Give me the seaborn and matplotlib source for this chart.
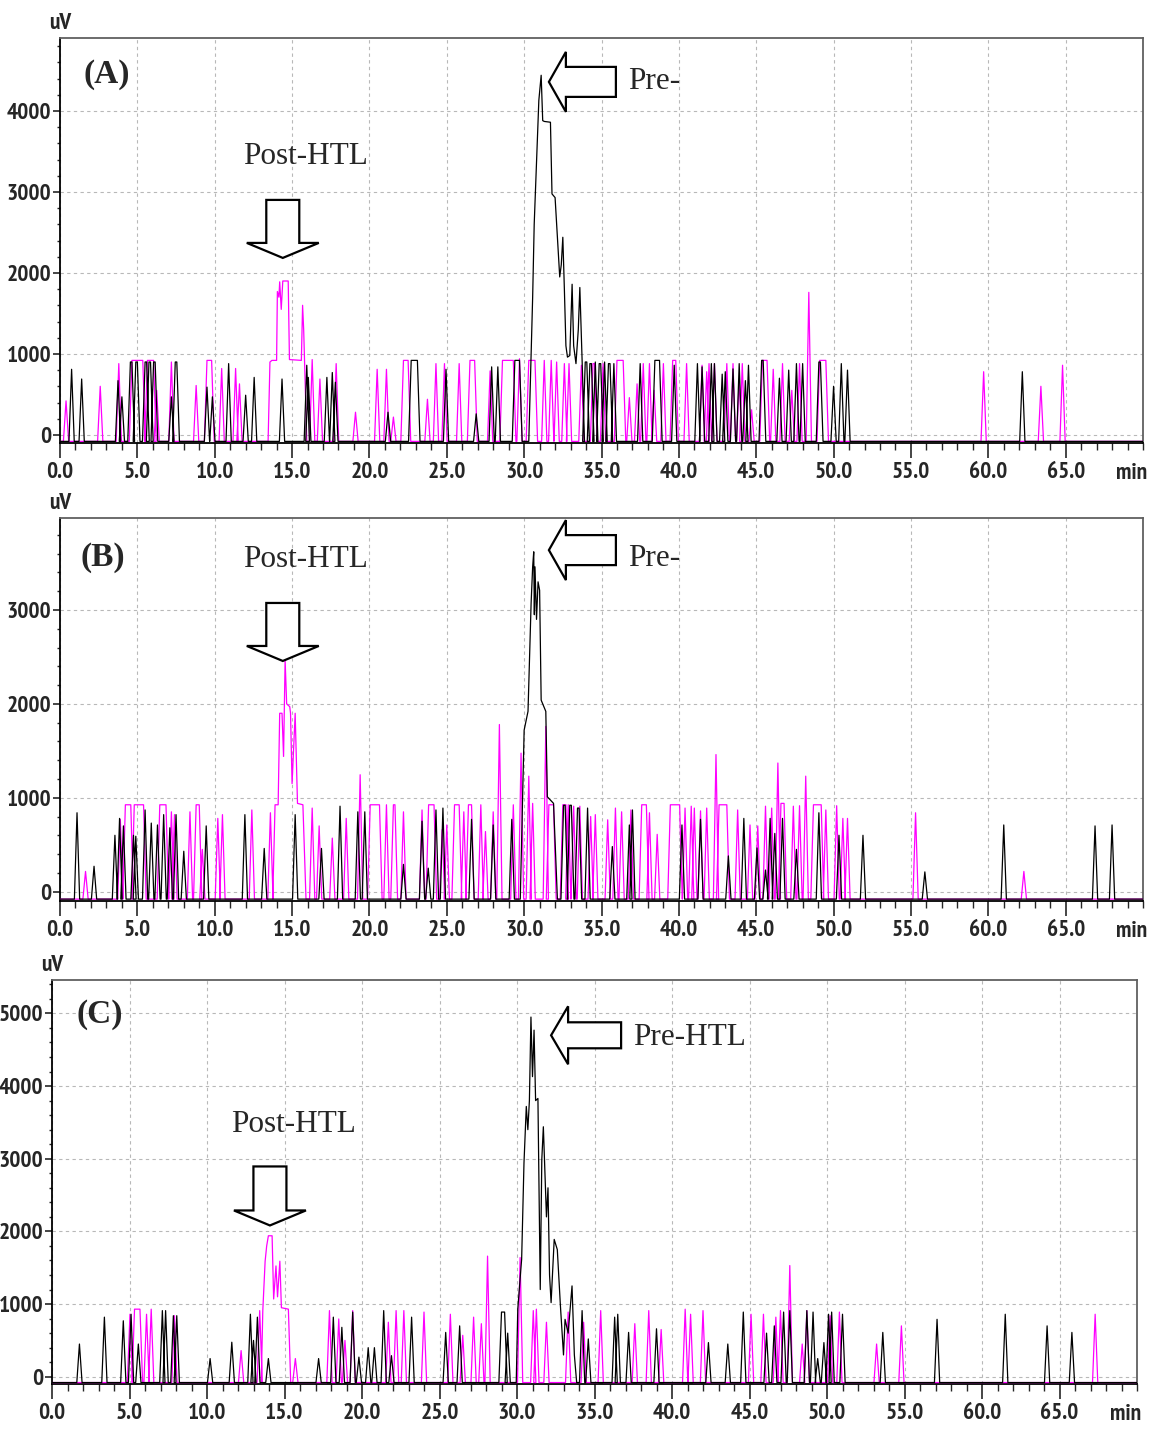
import numpy as np
import matplotlib
matplotlib.use("Agg")
import matplotlib.pyplot as plt
import matplotlib.transforms as mtransforms
from matplotlib.patches import Polygon
from matplotlib.ticker import MultipleLocator, FixedLocator
import seaborn as sns

# ---------------- DATA ----------------
# peaks: (retention time [min], height [uV], flat-top width [min])
BASELINE = -80

a_pre_peaks = [(0.75, 810, 0), (1.4, 690, 0), (3.75, 670, 0), (4.0, 470, 0), (4.6, 900, 0.1),
               (4.95, 900, 0.1), (5.55, 900, 0.1), (5.8, 900, 0.1), (6.1, 900, 0.1), (7.2, 470, 0),
               (7.5, 900, 0.1), (9.5, 590, 0), (9.85, 470, 0), (10.9, 880, 0), (12.0, 490, 0),
               (12.55, 710, 0), (14.35, 690, 0), (15.95, 860, 0), (16.05, 710, 0), (17.25, 710, 0),
               (17.6, 770, 0), (17.8, 650, 0), (21.2, 280, 0), (22.9, 920, 0.4), (24.95, 810, 0),
               (26.9, 260, 0), (27.9, 840, 0), (28.3, 840, 0), (29.55, 920, 0.3), (34.0, 900, 0.1),
               (34.3, 880, 0.1), (34.6, 900, 0), (34.9, 880, 0.1), (35.2, 900, 0), (35.5, 880, 0.1),
               (35.8, 880, 0), (37.5, 880, 0), (38.6, 920, 0.3), (39.7, 860, 0), (41.2, 880, 0),
               (41.5, 840, 0), (42.1, 880, 0), (42.3, 880, 0), (42.8, 750, 0), (43.0, 780, 0),
               (43.5, 815, 0), (43.9, 880, 0), (44.3, 670, 0), (44.5, 860, 0), (45.4, 920, 0.1),
               (46.5, 700, 0), (47.1, 800, 0), (47.6, 880, 0), (48.0, 880, 0), (49.1, 900, 0.1),
               (50.0, 600, 0), (50.5, 880, 0), (50.9, 800, 0), (62.2, 780, 0)]
a_pre_main_t = [30.3, 30.45, 30.55, 30.65, 30.75, 30.85, 30.95, 31.1, 31.2, 31.3, 31.7, 31.8, 32.0,
                32.3, 32.4, 32.5, 32.6, 32.7, 32.8, 32.95, 33.1, 33.2, 33.35, 33.5, 33.6, 33.75, 33.9]
a_pre_main_v = [-80, 1000, 1700, 2600, 3100, 3630, 4130, 4440, 3880, 3870, 3860, 2975, 2930,
                1950, 2100, 2440, 1800, 1100, 960, 980, 1860, 1100, 880, 1300, 1820, 900, -80]

a_post_peaks = [(0.39, 420, 0), (2.6, 600, 0), (3.8, 880, 0), (5.0, 920, 0.7), (5.85, 920, 0.4),
                (6.25, 550, 0), (7.2, 900, 0), (8.8, 610, 0), (9.65, 920, 0.3), (10.45, 820, 0),
                (11.35, 820, 0), (11.6, 630, 0), (16.3, 930, 0), (16.8, 690, 0), (17.85, 880, 0),
                (19.1, 280, 0), (20.5, 810, 0), (21.1, 810, 0), (21.55, 220, 0), (22.35, 920, 0.3),
                (23.75, 440, 0), (24.3, 880, 0), (24.85, 880, 0), (25.8, 880, 0), (26.65, 920, 0.3),
                (27.8, 790, 0), (28.95, 920, 0.7), (29.7, 940, 0), (30.5, 920, 0.4), (31.3, 920, 0),
                (31.75, 920, 0), (32.1, 900, 0), (32.6, 880, 0), (32.9, 880, 0), (33.7, 860, 0),
                (34.5, 880, 0.1), (35.1, 880, 0), (36.2, 920, 0.4), (36.8, 460, 0), (37.3, 630, 0),
                (37.7, 880, 0), (38.1, 880, 0), (38.4, 550, 0), (39.0, 880, 0), (39.7, 920, 0.2),
                (40.5, 880, 0), (41.5, 860, 0), (41.8, 780, 0), (41.95, 880, 0), (42.3, 880, 0),
                (43.1, 880, 0), (43.5, 880, 0), (43.9, 690, 0), (44.1, 880, 0), (44.7, 310, 0),
                (45.55, 920, 0.3), (46.1, 810, 0), (46.7, 880, 0), (47.3, 550, 0), (47.8, 880, 0),
                (48.4, 1760, 0), (49.3, 920, 0.4), (59.7, 780, 0), (63.4, 600, 0), (64.8, 860, 0)]
a_post_main_t = [13.45, 13.57, 13.7, 14.0, 14.05, 14.15, 14.2, 14.3, 14.4, 14.75, 14.83, 15.6,
                 15.68, 15.75, 15.85, 15.95]
a_post_main_v = [-80, 900, 920, 920, 1770, 1700, 1890, 1550, 1900, 1900, 930, 920,
                 1600, 1300, 600, -80]

b_pre_peaks = [(1.1, 840, 0), (2.2, 270, 0), (3.55, 600, 0), (3.85, 780, 0), (4.1, 700, 0),
               (4.75, 600, 0), (4.9, 590, 0), (5.5, 870, 0), (5.9, 730, 0), (6.3, 710, 0),
               (6.7, 820, 0), (7.1, 680, 0), (7.5, 820, 0), (8.0, 430, 0), (9.45, 700, 0),
               (11.95, 820, 0), (13.2, 460, 0), (15.2, 820, 0), (16.9, 460, 0), (18.1, 910, 0),
               (19.25, 850, 0), (19.7, 850, 0), (22.2, 290, 0), (23.4, 750, 0), (23.8, 250, 0),
               (24.3, 870, 0), (24.75, 890, 0), (26.6, 770, 0), (28.0, 710, 0), (29.2, 770, 0),
               (32.6, 920, 0.1), (33.0, 920, 0.1), (33.5, 890, 0.1), (34.1, 890, 0), (35.7, 480, 0),
               (36.8, 710, 0), (37.0, 870, 0), (40.2, 710, 0), (41.4, 770, 0), (43.2, 380, 0),
               (44.2, 780, 0), (45.05, 465, 0), (45.6, 230, 0), (45.9, 780, 0), (46.2, 620, 0),
               (46.7, 780, 0), (47.6, 450, 0), (49.05, 840, 0), (50.35, 600, 0), (51.9, 600, 0),
               (55.9, 210, 0), (61.0, 710, 0), (66.9, 700, 0), (68.0, 710, 0)]
b_pre_main_t = [29.75, 29.9, 30.0, 30.25, 30.45, 30.55, 30.62, 30.66, 30.7, 30.8, 30.9, 31.0,
                31.1, 31.4, 31.5, 31.9, 32.15]
b_pre_main_v = [-80, 1000, 1720, 1920, 3070, 3460, 3620, 2950, 3460, 2900, 3300, 3210,
                2040, 1920, 1010, 940, -80]

b_post_peaks = [(1.65, 215, 0), (3.9, 770, 0), (4.4, 925, 0.35), (5.1, 925, 0.6), (6.65, 925, 0.4),
                (7.2, 850, 0), (7.4, 820, 0), (8.4, 850, 0), (8.9, 925, 0.2), (9.2, 450, 0),
                (10.2, 780, 0), (10.5, 820, 0), (12.4, 870, 0), (13.6, 840, 0), (16.3, 890, 0),
                (16.75, 700, 0), (17.6, 570, 0), (18.5, 780, 0), (19.4, 1245, 0), (20.35, 925, 0.6),
                (21.1, 925, 0), (21.6, 925, 0.1), (22.2, 850, 0), (23.4, 870, 0), (24.0, 925, 0.35),
                (24.7, 660, 0), (25.0, 710, 0), (25.65, 925, 0.3), (26.1, 850, 0), (26.5, 925, 0.2),
                (27.2, 925, 0), (27.5, 640, 0), (28.0, 850, 0), (28.4, 1780, 0), (29.3, 925, 0),
                (29.8, 1475, 0), (30.3, 1230, 0), (30.55, 940, 0), (31.4, 1760, 0), (31.75, 925, 0.3),
                (32.6, 925, 0.2), (32.85, 925, 0), (33.2, 910, 0), (33.6, 910, 0), (34.3, 800, 0),
                (34.6, 820, 0), (35.4, 765, 0), (35.9, 890, 0), (36.3, 850, 0), (36.9, 870, 0),
                (37.75, 925, 0.3), (38.1, 840, 0), (38.6, 610, 0), (39.75, 925, 0.6), (40.4, 890, 0),
                (40.8, 910, 0), (41.0, 890, 0), (41.4, 860, 0), (41.8, 890, 0), (42.4, 1460, 0),
                (42.85, 925, 0.5), (43.8, 870, 0), (44.6, 710, 0), (45.1, 700, 0), (45.6, 910, 0),
                (46.0, 890, 0), (46.4, 1370, 0), (46.7, 940, 0.2), (47.4, 910, 0), (47.8, 915, 0),
                (48.2, 1230, 0), (48.95, 925, 0.5), (49.5, 870, 0), (50.2, 915, 0), (50.6, 780, 0),
                (50.9, 780, 0), (55.3, 840, 0), (62.3, 215, 0)]
b_post_main_t = [13.75, 13.9, 14.1, 14.2, 14.35, 14.45, 14.55, 14.65, 14.85, 14.9, 15.0, 15.2,
                 15.35, 15.7, 15.9]
b_post_main_v = [-80, 925, 925, 1900, 1900, 1440, 2470, 2000, 1970, 1900, 1150, 1900,
                 940, 925, -80]

c_pre_peaks = [(1.77, 450, 0), (3.38, 820, 0), (4.6, 770, 0), (5.1, 860, 0), (5.57, 450, 0),
               (7.12, 910, 0), (7.33, 910, 0), (7.83, 840, 0), (8.05, 840, 0), (10.2, 250, 0),
               (11.6, 475, 0), (12.8, 860, 0), (13.0, 500, 0), (13.25, 820, 0), (13.96, 250, 0),
               (17.2, 250, 0), (18.15, 820, 0), (18.7, 680, 0), (19.4, 890, 0), (19.8, 270, 0),
               (20.4, 400, 0), (20.8, 400, 0), (21.4, 910, 0), (21.9, 290, 0), (23.2, 820, 0),
               (25.4, 610, 0), (26.3, 700, 0), (29.1, 890, 0.2), (29.4, 600, 0), (34.2, 910, 0),
               (34.6, 520, 0), (36.3, 820, 0), (36.5, 860, 0), (37.2, 610, 0), (39.0, 660, 0),
               (42.35, 470, 0), (43.6, 450, 0), (44.6, 890, 0), (46.1, 600, 0), (46.6, 700, 0),
               (47.2, 890, 0), (47.6, 910, 0), (48.7, 910, 0), (49.1, 890, 0), (49.4, 250, 0),
               (49.8, 470, 0), (50.1, 860, 0), (50.3, 890, 0), (51.0, 860, 0), (53.6, 610, 0),
               (57.1, 790, 0), (61.5, 860, 0), (64.2, 700, 0), (65.8, 610, 0)]
c_pre_main_t = [29.95, 30.05, 30.3, 30.45, 30.6, 30.7, 30.8, 30.9, 31.0, 31.1, 31.2, 31.35, 31.5,
                31.6, 31.7, 31.9, 32.0, 32.1, 32.2, 32.4, 32.6, 32.8, 33.0, 33.1, 33.3, 33.55,
                33.7, 33.85]
c_pre_main_v = [-80, 930, 1620, 2940, 3720, 3400, 3800, 4950, 4130, 4770, 3800, 3830, 1200,
                2990, 3440, 2200, 2600, 1400, 1020, 1890, 1750, 980, 300, 790, 600, 1250,
                300, -80]

c_post_peaks = [(5.03, 860, 0), (5.5, 930, 0.35), (6.1, 860, 0), (6.4, 930, 0), (7.9, 840, 0),
                (12.2, 360, 0), (13.4, 910, 0), (15.7, 250, 0), (17.9, 910, 0), (18.5, 795, 0),
                (18.9, 500, 0), (19.4, 910, 0), (21.7, 750, 0), (22.2, 910, 0), (22.7, 910, 0),
                (24.0, 890, 0), (25.7, 860, 0), (26.5, 570, 0), (27.2, 820, 0), (27.7, 730, 0),
                (28.1, 1660, 0), (30.2, 1640, 0), (31.05, 910, 0), (31.25, 930, 0), (31.9, 750, 0),
                (33.3, 890, 0), (34.3, 750, 0), (35.4, 910, 0), (37.6, 730, 0), (38.5, 910, 0),
                (39.3, 650, 0), (40.85, 930, 0), (41.2, 860, 0), (42.0, 910, 0), (45.1, 860, 0),
                (45.9, 860, 0), (46.7, 820, 0), (47.0, 910, 0), (47.6, 1530, 0), (48.4, 450, 0),
                (48.7, 910, 0), (50.2, 840, 0), (50.8, 890, 0), (53.2, 450, 0), (54.8, 700, 0),
                (67.3, 860, 0)]
c_post_main_t = [13.5, 13.6, 13.75, 13.85, 13.96, 14.2, 14.3, 14.45, 14.55, 14.7, 14.8, 15.25, 15.4]
c_post_main_v = [-80, 910, 1590, 1800, 1940, 1940, 1070, 1525, 1100, 1590, 950, 930, -80]

x_tick_values = [0, 5, 10, 15, 20, 25, 30, 35, 40, 45, 50, 55, 60, 65]
x_tick_labels = ["0.0", "5.0", "10.0", "15.0", "20.0", "25.0", "30.0", "35.0", "40.0",
                 "45.0", "50.0", "55.0", "60.0", "65.0"]
a_y_ticks = [0, 1000, 2000, 3000, 4000]
b_y_ticks = [0, 1000, 2000, 3000]
c_y_ticks = [0, 1000, 2000, 3000, 4000, 5000]
panel_labels = ["(A)", "(B)", "(C)"]

# ---------------- STYLE ----------------
sns.set_style("white")
TICKFONT = ['PT Sans Narrow', 'DejaVu Sans']
SERIF = ['Liberation Serif', 'DejaVu Serif']
plt.rcParams['font.family'] = TICKFONT
PRE_COLOR = "black"
POST_COLOR = "#ff00ff"
TICK_SIZE = 16.8


def build_trace(peaks, main_t, main_v, rise=0.17, t_end=70.0):
    segs = []
    for t, h, w in peaks:
        segs.append(([t - w / 2 - rise, t - w / 2, t + w / 2, t + w / 2 + rise],
                     [BASELINE, h, h, BASELINE]))
    segs.append((list(main_t), list(main_v)))
    segs.sort(key=lambda s: s[0][0])
    xs, ys = [0.0], [BASELINE]
    for sx, sy in segs:
        xs += sx
        ys += sy
    xs.append(t_end)
    ys.append(BASELINE)
    return np.array(xs), np.array(ys)


fig = plt.figure(figsize=(11.5, 14.31), dpi=100)
fig.patch.set_facecolor("white")

panels = [
    dict(rect=[60 / 1150, 1 - 443 / 1431, 1083 / 1150, 405 / 1431], ylim=(-100, 4900),
         yticks=a_y_ticks, pre=(a_pre_peaks, a_pre_main_t, a_pre_main_v),
         post=(a_post_peaks, a_post_main_t, a_post_main_v), label=panel_labels[0],
         label_xy=(3.04, 4444), post_xy=(15.9, 3432), down_tip=(14.4, 2185),
         left_tip=(31.6, 4358), pre_text="Pre-", pre_xy=(36.7, 4358),
         down_shape=(16.5, 36, 15, 58), left_shape=(15, 30, 17, 67)),
    dict(rect=[60 / 1150, 1 - 901 / 1431, 1083 / 1150, 383 / 1431], ylim=(-100, 3980),
         yticks=b_y_ticks, pre=(b_pre_peaks, b_pre_main_t, b_pre_main_v),
         post=(b_post_peaks, b_post_main_t, b_post_main_v), label=panel_labels[1],
         label_xy=(2.78, 3564), post_xy=(15.9, 3543), down_tip=(14.4, 2457),
         left_tip=(31.6, 3638), pre_text="Pre-", pre_xy=(36.7, 3553),
         down_shape=(16.5, 36, 15, 58), left_shape=(15, 30, 17, 67)),
    dict(rect=[52 / 1150, 1 - 1384 / 1431, 1085 / 1150, 404 / 1431], ylim=(-100, 5460),
         yticks=c_y_ticks, pre=(c_pre_peaks, c_pre_main_t, c_pre_main_v),
         post=(c_post_peaks, c_post_main_t, c_post_main_v), label=panel_labels[2],
         label_xy=(3.1, 4986), post_xy=(15.6, 3466), down_tip=(14.06, 2082),
         left_tip=(32.2, 4699), pre_text="Pre-HTL", pre_xy=(37.5, 4671),
         down_shape=(16.5, 36, 15, 59), left_shape=(13, 29, 17, 70)),
]

for p in panels:
    ax = fig.add_axes(p["rect"])
    ax.set_facecolor("white")

    xs, ys = build_trace(*p["post"])
    sns.lineplot(x=xs, y=ys, ax=ax, color=POST_COLOR, lw=0.9, estimator=None, sort=False,
                 zorder=3)
    xs, ys = build_trace(*p["pre"])
    sns.lineplot(x=xs, y=ys, ax=ax, color=PRE_COLOR, lw=0.9, estimator=None, sort=False,
                 zorder=4)

    ax.set_xlim(0, 70)
    ax.set_ylim(*p["ylim"])
    ax.set_xlabel("")
    ax.set_ylabel("")

    ax.xaxis.set_major_locator(FixedLocator(x_tick_values))
    ax.set_xticklabels(x_tick_labels)
    ax.xaxis.set_minor_locator(MultipleLocator(1))
    ax.yaxis.set_major_locator(FixedLocator(p["yticks"]))
    ax.set_yticklabels([str(v) for v in p["yticks"]])
    ax.yaxis.set_minor_locator(MultipleLocator(200))

    ax.tick_params(axis="x", which="major", direction="out", length=11, width=1.2,
                   pad=3, labelsize=TICK_SIZE, bottom=True)
    ax.tick_params(axis="x", which="minor", direction="out", length=5, width=1.0, bottom=True)
    ax.tick_params(axis="y", which="major", direction="out", length=5, width=1.2,
                   pad=1.5, labelsize=TICK_SIZE, left=True)
    ax.tick_params(axis="y", which="minor", direction="out", length=2.5, width=1.0, left=True)
    for lab in ax.get_xticklabels() + ax.get_yticklabels():
        lab.set_fontweight("bold")
        lab.set_family(TICKFONT)

    ax.grid(True, which="major", color="#b8b8b8", linestyle=(0, (3, 3)), linewidth=0.8)
    ax.set_axisbelow(True)

    for side in ["left", "bottom"]:
        ax.spines[side].set_color("black")
        ax.spines[side].set_linewidth(1.3)
    for side in ["top", "right"]:
        ax.spines[side].set_color("#606060")
        ax.spines[side].set_linewidth(1.3)
        ax.spines[side].set_visible(True)

    ax.annotate("uV", xy=(0, 1), xycoords="axes fraction", xytext=(0, 3),
                textcoords="offset points", ha="center", va="bottom", fontsize=TICK_SIZE,
                fontweight="bold", family=TICKFONT)
    ax.annotate("min", xy=(1, 0), xycoords="axes fraction", xytext=(3, -14.3),
                textcoords="offset points", ha="right", va="top", fontsize=TICK_SIZE,
                fontweight="bold", family=TICKFONT)

    ax.text(*p["label_xy"], p["label"], ha="center", va="center", fontsize=24,
            fontweight="bold", family=SERIF, zorder=6)
    ax.text(*p["post_xy"], "Post-HTL", ha="center", va="center", fontsize=22.5,
            family=SERIF, zorder=6)
    ax.text(*p["pre_xy"], p["pre_text"], ha="left", va="center", fontsize=22.5,
            family=SERIF, zorder=6)

    sw, hw, hl, tot = p["down_shape"]
    down = [(-sw, tot), (sw, tot), (sw, hl), (hw, hl), (0, 0), (-hw, hl), (-sw, hl)]
    tr = mtransforms.Affine2D().scale(fig.dpi / 100) + \
        mtransforms.ScaledTranslation(p["down_tip"][0], p["down_tip"][1], ax.transData)
    ax.add_patch(Polygon(down, closed=True, facecolor="white", edgecolor="black", lw=1.6,
                         transform=tr, zorder=7, clip_on=False))

    sh, hh, hl2, tot2 = p["left_shape"]
    left = [(0, 0), (hl2, hh), (hl2, sh), (tot2, sh), (tot2, -sh), (hl2, -sh), (hl2, -hh)]
    tr2 = mtransforms.Affine2D().scale(fig.dpi / 100) + \
        mtransforms.ScaledTranslation(p["left_tip"][0], p["left_tip"][1], ax.transData)
    ax.add_patch(Polygon(left, closed=True, facecolor="white", edgecolor="black", lw=1.6,
                         transform=tr2, zorder=7, clip_on=False))

fig.savefig("out.png", dpi=100, facecolor="white")
